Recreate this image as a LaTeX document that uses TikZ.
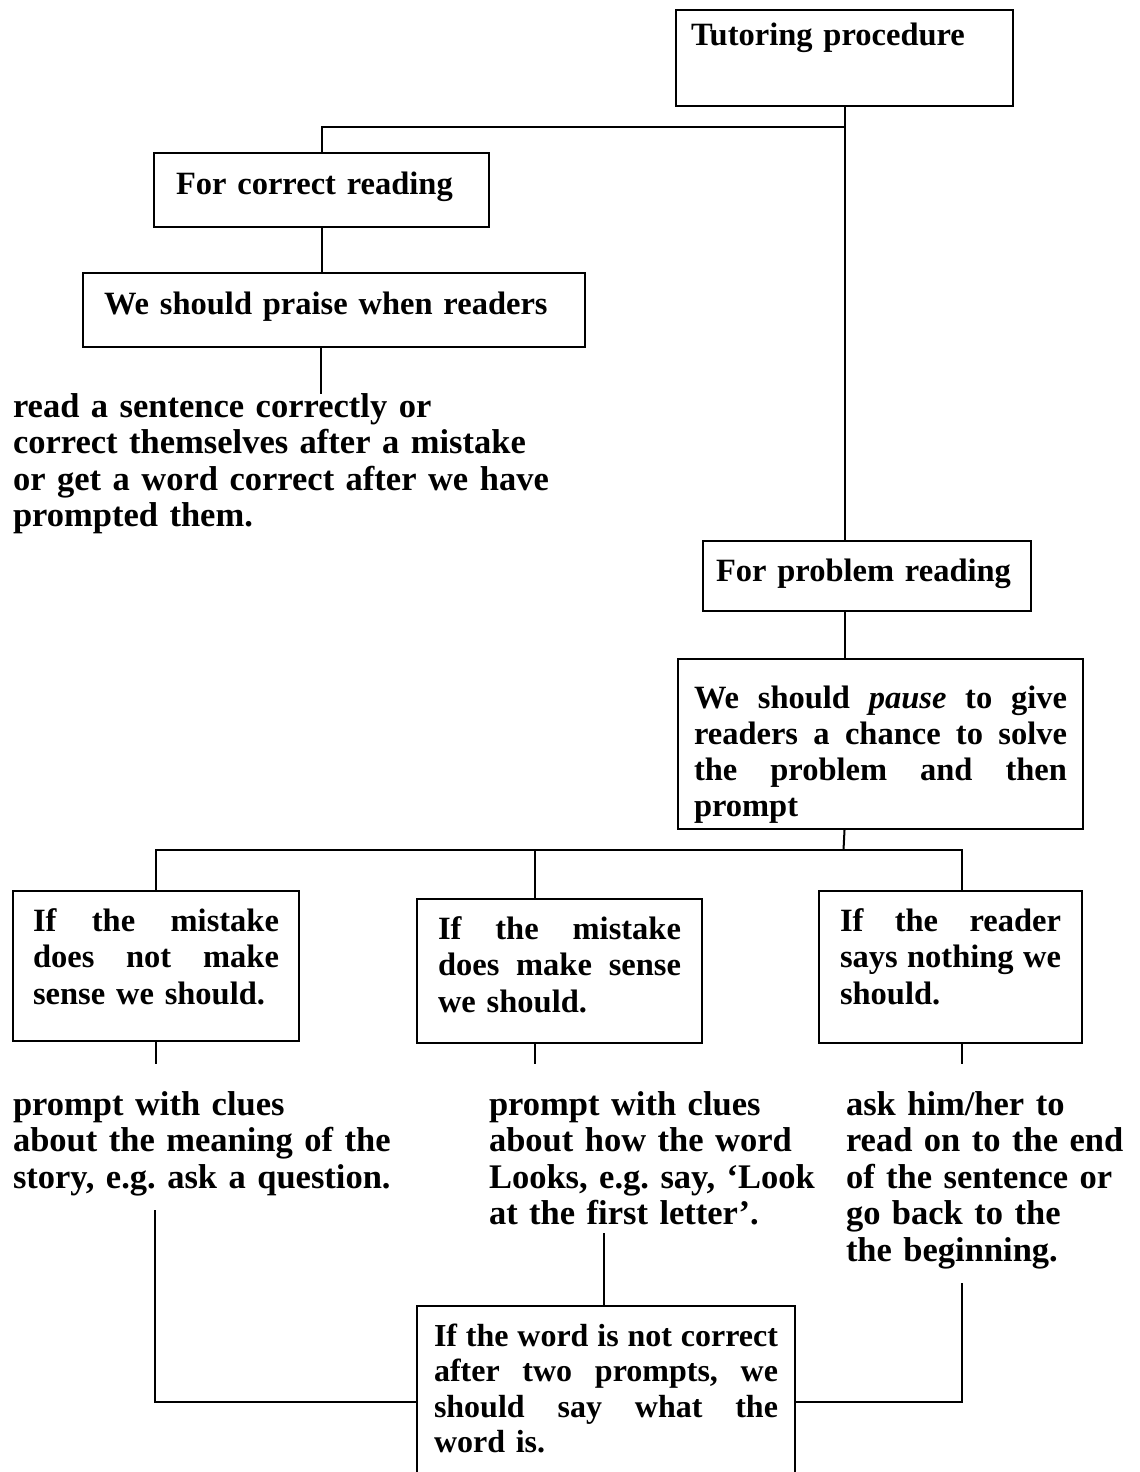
\documentclass[tikz,border=0pt]{standalone}
\usepackage{fontspec}
\setmainfont{Liberation Serif}
\newcommand{\jl}[2]{\makebox[#1][s]{\spaceskip=0.25em plus 1fil minus 0.08em\relax #2}}
\begin{document}
\begin{tikzpicture}[x=0.5pt,y=-0.5pt,line width=1pt,
  box/.style={draw, line width=1pt, anchor=north west, inner ysep=0pt, align=left,
    font=\fontsize{16.25}{18.25}\selectfont\bfseries\frenchspacing},
  ftext/.style={anchor=base west, inner sep=0pt, align=left, text width=300pt,
    font=\fontsize{17.25}{18.25}\selectfont\bfseries\frenchspacing}]
\useasboundingbox (0,0) rectangle (1140,1472);
\clip (0,0) rectangle (1140,1472);
\fill[white] (0,0) rectangle (1140,1472);

\node[box, inner xsep=7.5pt, text width=153.5pt, text height=18pt, text depth=30pt] (tut) at (675,9) {Tutoring procedure};
\node[box, inner xsep=11pt, text width=145.5pt, text height=20.5pt, text depth=16.5pt] (correct) at (153,152) {For correct reading};
\node[box, inner xsep=10.5pt, text width=230pt, text height=20.5pt, text depth=16.5pt] (praise) at (82,272) {We should praise when readers};
\node[ftext] (ft1) at (12,417) {read a sentence correctly or\\correct themselves after a mistake\\or get a word correct after we have\\prompted them.};

\node[box, inner xsep=6.5pt, text width=151pt, text height=20pt, text depth=15pt] (problem) at (702,540) {For problem reading};
\node[box, inner xsep=8pt, text width=186.5pt, text height=24.5pt, text depth=60.5pt,
  font=\fontsize{16.25}{18}\selectfont\bfseries\frenchspacing] (pause) at (677,658)
  {\jl{186.5pt}{We should \textit{pause} to give}\\\jl{186.5pt}{readers a chance to solve}\\\jl{186.5pt}{the problem and then}\\prompt};

\node[box, inner xsep=10pt, text width=123pt, text height=20pt, text depth=55pt] (box1) at (12,890)
  {\jl{123pt}{If the mistake}\\\jl{123pt}{does not make}\\sense we should.};
\node[box, inner xsep=10.5pt, text width=121.5pt, text height=20pt, text depth=52pt] (box2) at (416,898)
  {\jl{121.5pt}{If the mistake}\\\jl{121.5pt}{does make sense}\\we should.};
\node[box, inner xsep=10.5pt, text width=110.5pt, text height=20pt, text depth=56pt] (box3) at (818,890)
  {\jl{110.5pt}{If the reader}\\\jl{110.5pt}{says nothing we}\\should.};

\node[ftext] (ft2) at (12,1115) {prompt with clues\\about the meaning of the\\story, e.g. ask a question.};
\node[ftext] (ft3) at (488,1115) {prompt with clues\\about how the word\\Looks, e.g. say, ‘Look\\at the first letter’.};
\node[ftext] (ft4) at (845,1115) {ask him/her to\\read on to the end\\of the sentence or\\go back to the\\the beginning.};

\node[box, inner xsep=8.5pt, text width=172pt, text height=20pt, text depth=100pt,
  font=\fontsize{16}{17.75}\selectfont\bfseries\frenchspacing] (bottom) at (416,1305)
  {\jl{172pt}{If the word is not correct}\\\jl{172pt}{after two prompts, we}\\\jl{172pt}{should say what the}\\word is.};

% connectors
\coordinate (j1) at (843.5,127);
\coordinate (e1) at (320.5,394);
\coordinate (j2) at (843.5,850);
\coordinate (c2) at (535,850);
\coordinate (c3) at (962,850);
\coordinate (d1) at (155,1064);
\coordinate (f1) at (155,1210);
\coordinate (g1) at (155,1402);
\coordinate (f2) at (604,1233);
\coordinate (f3) at (962,1283);
\coordinate (g3) at (962,1402);

\draw (tut.south) -- (tut.south |- problem.north);
\draw (correct.north) |- (j1);
\draw (correct.south) -- (correct.south |- praise.north);
\draw (e1 |- praise.south) -- (e1);
\draw (tut.south |- problem.south) -- (tut.south |- pause.north);
\draw (tut.south |- pause.south) -- (j2);
\draw (box1.north) |- (c3) -- (c3 |- box3.north);
\draw (c2) -- (c2 |- box2.north);
\draw (box1.south) -- (box1.south |- d1);
\draw (c2 |- box2.south) -- (c2 |- d1);
\draw (c3 |- box3.south) -- (c3 |- d1);
\draw (f1) -- (g1) -- (g1 -| bottom.west);
\draw (f2) -- (f2 |- bottom.north);
\draw (f3) -- (g3) -- (g3 -| bottom.east);
\end{tikzpicture}
\end{document}
